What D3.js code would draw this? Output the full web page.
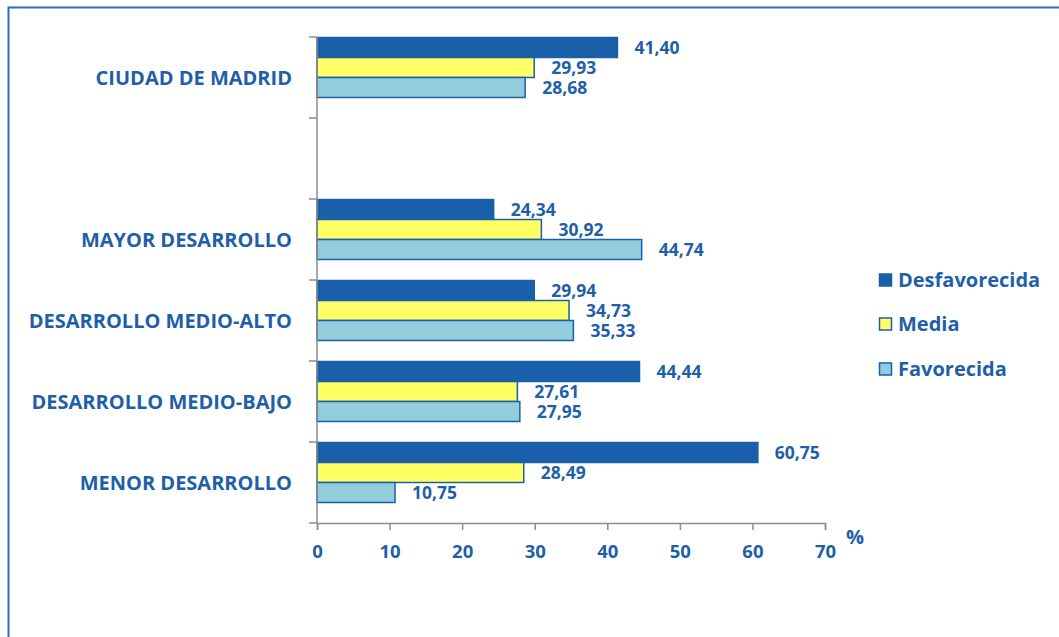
<!DOCTYPE html>
<html>
<head>
<meta charset="utf-8">
<script src="https://cdn.jsdelivr.net/npm/d3@7"></script>
<style>
  body { margin: 0; background: #fff; }
  svg { display: block; font-family: "Open Sans", Lato, sans-serif; font-weight: bold; }
</style>
</head>
<body>
<svg width="1059" height="637"></svg>
<script>
// categories top to bottom, "" is the empty slot under Madrid
var categories = ["CIUDAD DE MADRID", "", "MAYOR DESARROLLO", "DESARROLLO MEDIO-ALTO", "DESARROLLO MEDIO-BAJO", "MENOR DESARROLLO"]
var seriesNames = ["Desfavorecida", "Media", "Favorecida"]
var desfavorecida = [41.40, null, 24.34, 29.94, 44.44, 60.75]
var media = [29.93, null, 30.92, 34.73, 27.61, 28.49]
var favorecida = [28.68, null, 44.74, 35.33, 27.95, 10.75]
var xTicks = [0, 10, 20, 30, 40, 50, 60, 70]

var fills = ["#1a5fa9", "#ffff66", "#93cddd"]
var strokes = ["#1a5fa9", "#1a5fa9", "#1a5fa9"]
var textColor = "#1f5fa8"
var axisColor = "#8c8c8c"

var svg = d3.select("svg")

// outer frame (runs off the right and bottom edges)
svg.append("rect")
  .attr("x", 8.5).attr("y", 7.5)
  .attr("width", 1200).attr("height", 800)
  .attr("fill", "none")
  .attr("stroke", "#2f6dbb")
  .attr("stroke-width", 2)

var x = d3.scaleLinear().domain([0, 70]).range([317, 825])
var y = d3.scaleBand().domain(categories).range([37, 523])
var ySub = d3.scaleBand().domain(seriesNames).range([0.5, 60.5])

var values = [desfavorecida, media, favorecida]

var rows = []
categories.forEach(function(c, i) {
  seriesNames.forEach(function(s, j) {
    if (values[j][i] != null) rows.push({cat: c, series: s, j: j, value: values[j][i]})
  })
})

var g = svg.append("g")

g.selectAll("rect.bar")
  .data(rows)
  .enter().append("rect")
  .attr("class", "bar")
  .attr("x", x(0))
  .attr("y", function(d) { return y(d.cat) + ySub(d.series) })
  .attr("width", function(d) { return x(d.value) - x(0) })
  .attr("height", ySub.bandwidth())
  .attr("fill", function(d) { return fills[d.j] })
  .attr("stroke", function(d) { return strokes[d.j] })
  .attr("stroke-width", 1.5)

g.selectAll("text.val")
  .data(rows)
  .enter().append("text")
  .attr("class", "val")
  .attr("x", function(d) { return x(d.value) + 17 })
  .attr("y", function(d) { return y(d.cat) + ySub(d.series) + ySub.bandwidth() / 2 })
  .attr("dy", "0.36em")
  .attr("fill", textColor)
  .attr("font-size", 17.5)
  .text(function(d) { return d3.format(".2f")(d.value).replace(".", ",") })

// y axis
var yAxisG = svg.append("g")
yAxisG.append("line")
  .attr("x1", x(0)).attr("x2", x(0))
  .attr("y1", y.range()[0]).attr("y2", y.range()[1])
  .attr("stroke", axisColor).attr("stroke-width", 1.5)
var bounds = categories.map(function(c) { return y(c) }).concat([y.range()[1]])
yAxisG.selectAll("line.tick")
  .data(bounds)
  .enter().append("line")
  .attr("x1", x(0) - 8).attr("x2", x(0))
  .attr("y1", function(d) { return d }).attr("y2", function(d) { return d })
  .attr("stroke", axisColor).attr("stroke-width", 1.5)

svg.append("g").selectAll("text")
  .data(categories.filter(function(c) { return c !== "" }))
  .enter().append("text")
  .attr("x", 292)
  .attr("y", function(d) { return y(d) + y.bandwidth() / 2 })
  .attr("dy", "0.36em")
  .attr("text-anchor", "end")
  .attr("fill", textColor)
  .attr("font-size", 20)
  .text(function(d) { return d })

// x axis
var xAxis = d3.axisBottom(x).tickValues(xTicks).tickSize(7).tickPadding(15)
var xg = svg.append("g")
  .attr("transform", "translate(0," + y.range()[1] + ")")
  .call(xAxis)
xg.select(".domain").attr("stroke", axisColor).attr("stroke-width", 1.5)
xg.selectAll(".tick line").attr("stroke", axisColor).attr("stroke-width", 1.5)
xg.selectAll(".tick text")
  .attr("fill", textColor)
  .attr("font-size", 18.5)
  .attr("font-family", "'Open Sans', sans-serif")
  .attr("font-weight", "bold")

svg.append("text")
  .attr("x", 846).attr("y", 544)
  .attr("fill", textColor)
  .attr("font-size", 20)
  .text("%")

// legend
var legendY = [280, 324, 369]
var lg = svg.append("g").selectAll("g")
  .data(seriesNames)
  .enter().append("g")
  .attr("transform", function(d, i) { return "translate(879," + legendY[i] + ")" })
lg.append("rect")
  .attr("x", 0.5).attr("y", -6)
  .attr("width", 12).attr("height", 12)
  .attr("fill", function(d, i) { return fills[i] })
  .attr("stroke", function(d, i) { return strokes[i] })
  .attr("stroke-width", 1.5)
lg.append("text")
  .attr("x", 19).attr("dy", "0.36em")
  .attr("fill", textColor)
  .attr("font-size", 20)
  .text(function(d) { return d })
</script>
</body>
</html>
